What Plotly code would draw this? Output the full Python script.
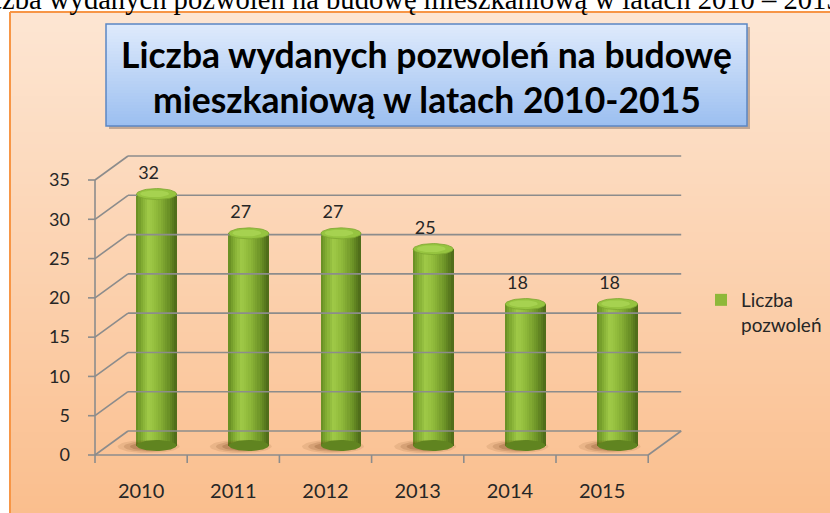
import math
import plotly.graph_objects as go

# ---------------- data ----------------
years = ["2010", "2011", "2012", "2013", "2014", "2015"]
values = [32, 27, 27, 25, 18, 18]
y_ticks = [0, 5, 10, 15, 20, 25, 30, 35]
series_name = "Liczba pozwoleń"
chart_title = ["Liczba wydanych pozwoleń na budowę", "mieszkaniową w latach 2010-2015"]
doc_caption = "Liczba wydanych pozwoleń na budowę mieszkaniową w latach 2010 – 2015"

# ---------------- geometry (pixels -> axis units) ----------------
W, H = 830, 513
PX_X = 92.2          # px per category
PX_Y = 7.857         # px per unit value
X_FRONT_PX = 95      # px of x = -0.5
Y_ZERO_PX = 455      # px of y = 0
PL, PR, PT, PB = 88, 683, 150, 463   # plot area in px

x_range = [-0.5 - (X_FRONT_PX - PL) / PX_X, -0.5 + (PR - X_FRONT_PX) / PX_X]
y_range = [-(PB - Y_ZERO_PX) / PX_Y, (Y_ZERO_PX - PT) / PX_Y]

DX = 33 / PX_X       # full depth of the 3D box
DY = 24 / PX_Y
DXC = 15.5 / PX_X    # bar centre depth offset
DYC = 9.5 / PX_Y
RX = 20 / PX_X       # cylinder radius
RY = 5.5 / PX_Y
N_STRIP = 18
SW = 2 * RX / N_STRIP


def fx(px):
    return (px - PL) / (PR - PL)


def fy(py):
    return (PB - py) / (PB - PT)


def ellipse(cx, cy, rx, ry, n=48):
    xs, ys = [], []
    for k in range(n + 1):
        a = 2 * math.pi * k / n
        xs.append(cx + rx * math.cos(a))
        ys.append(cy + ry * math.sin(a))
    return xs, ys


def lerp_color(t, stops):
    for (t0, c0), (t1, c1) in zip(stops, stops[1:]):
        if t0 <= t <= t1:
            f = (t - t0) / (t1 - t0) if t1 > t0 else 0
            c = [round(a + (b - a) * f) for a, b in zip(c0, c1)]
            return "rgb(%d,%d,%d)" % tuple(c)
    return "rgb(%d,%d,%d)" % stops[-1][1]


cyl_stops = [(0.0, (100, 138, 34)), (0.12, (126, 168, 48)), (0.32, (160, 202, 72)),
             (0.55, (140, 182, 56)), (0.8, (108, 146, 38)), (1.0, (76, 104, 24))]

fig = go.Figure()

# ---------------- walls / gridlines / ticks ----------------
gx, gy = [], []
n_cat = len(years)
left, right = -0.5, n_cat - 0.5
for t in y_ticks:
    gx += [left + DX, right + DX, None]
    gy += [t + DY, t + DY, None]
    gx += [left, left + DX, None]
    gy += [t, t + DY, None]
    # y tick
    gx += [left - 7 / PX_X, left, None]
    gy += [t, t, None]
# floor front, floor right, front vertical axis
gx += [left, right, None, right, right + DX, None, left, left, None]
gy += [0, 0, None, 0, DY, None, 0, y_ticks[-1], None]
# x ticks at category boundaries
for b in range(n_cat + 1):
    gx += [left + b, left + b, None]
    gy += [0, -8 / PX_Y, None]
fig.add_trace(go.Scatter(x=gx, y=gy, mode="lines", line=dict(color="#8c8c8c", width=1.6),
                         hoverinfo="skip", showlegend=False))

# ---------------- floor shadows ----------------
for scale, alpha in [(1.0, 0.10), (0.8, 0.15), (0.6, 0.2)]:
    sx, sy = [], []
    for i, v in enumerate(values):
        ex, ey = ellipse(i + DXC - 8 / PX_X, DYC - 1.0 / PX_Y, RX * 1.55 * scale, RY * 1.2 * scale)
        sx += ex + [None]
        sy += ey + [None]
    fig.add_trace(go.Scatter(x=sx, y=sy, mode="lines", fill="toself", line=dict(width=0),
                             fillcolor="rgba(100,50,12,%.2f)" % alpha, hoverinfo="skip", showlegend=False))

# ---------------- cylinder bottoms ----------------
bx, by = [], []
for i, v in enumerate(values):
    ex, ey = ellipse(i + DXC, DYC, RX, RY)
    bx += ex + [None]
    by += ey + [None]
fig.add_trace(go.Scatter(x=bx, y=by, mode="lines", fill="toself", line=dict(width=0),
                         fillcolor="rgb(96,132,32)", hoverinfo="skip", showlegend=False))

# ---------------- cylinder bodies (vertical strips) ----------------
legend_strip = int(N_STRIP * 0.5)
for k in range(N_STRIP):
    t = (k + 0.5) / N_STRIP
    xs = [i + DXC - RX + (k + 0.5) * SW for i in range(n_cat)]
    fig.add_trace(go.Bar(
        x=xs, y=values, base=[DYC] * n_cat, width=SW * 1.35,
        marker=dict(color=lerp_color(t, cyl_stops), line=dict(width=0)),
        name="Liczba<br>pozwoleń", showlegend=(k == legend_strip),
        hoverinfo="skip"))

# ---------------- cylinder tops ----------------
tx, ty = [], []
hx, hy = [], []
for i, v in enumerate(values):
    ex, ey = ellipse(i + DXC, v + DYC, RX, RY)
    tx += ex + [None]
    ty += ey + [None]
    ex, ey = ellipse(i + DXC - 2 / PX_X, v + DYC + 0.3 / PX_Y, RX * 0.72, RY * 0.62)
    hx += ex + [None]
    hy += ey + [None]
fig.add_trace(go.Scatter(x=tx, y=ty, mode="lines", fill="toself",
                         line=dict(width=0.8, color="rgb(124,166,48)"),
                         fillcolor="rgb(150,196,64)", hoverinfo="skip", showlegend=False))
fig.add_trace(go.Scatter(x=hx, y=hy, mode="lines", fill="toself", line=dict(width=0),
                         fillcolor="rgb(166,210,80)", hoverinfo="skip", showlegend=False))

# ---------------- data labels ----------------
fig.add_trace(go.Scatter(
    x=[i + DXC - 8 / PX_X for i in range(n_cat)],
    y=[v + DYC + 19.5 / PX_Y for v in values],
    mode="text", text=[str(v) for v in values],
    textfont=dict(family="Lato", size=18, color="#262626"),
    cliponaxis=False, hoverinfo="skip", showlegend=False))

# ---------------- background shapes ----------------
shapes = []
top_c, bot_c = (253, 230, 211), (250, 190, 141)
y_start, y_end, step = 12, 513, 4
py = y_start
while py < y_end:
    f = (py - y_start) / (y_end - y_start)
    c = tuple(round(a + (b - a) * f) for a, b in zip(top_c, bot_c))
    shapes.append(dict(type="rect", xref="paper", yref="paper", layer="below",
                       x0=fx(10), x1=fx(W), y0=fy(py), y1=fy(min(py + step + 0.5, y_end)),
                       line=dict(width=0), fillcolor="rgb(%d,%d,%d)" % c))
    py += step
# chart area border (only top and left edges are inside the page)
shapes.append(dict(type="line", xref="paper", yref="paper", layer="below",
                   x0=fx(10), x1=fx(W), y0=fy(12), y1=fy(12),
                   line=dict(width=2, color="#f79646")))
shapes.append(dict(type="line", xref="paper", yref="paper", layer="below",
                   x0=fx(10), x1=fx(10), y0=fy(12), y1=fy(H),
                   line=dict(width=2, color="#f79646")))

# title box: shadow, gradient, border
bx0, bx1, by0, by1 = 106, 747, 24, 126
shapes.append(dict(type="rect", xref="paper", yref="paper", layer="below",
                   x0=fx(bx0 + 3), x1=fx(bx1 + 3), y0=fy(by0 + 3), y1=fy(by1 + 3),
                   line=dict(width=0), fillcolor="rgba(90,70,60,0.35)"))
t_top, t_bot = (222, 234, 252), (154, 190, 240)
py = by0
while py < by1:
    f = (py - by0) / (by1 - by0)
    c = tuple(round(a + (b - a) * f) for a, b in zip(t_top, t_bot))
    shapes.append(dict(type="rect", xref="paper", yref="paper", layer="below",
                       x0=fx(bx0), x1=fx(bx1), y0=fy(py), y1=fy(min(py + 3.5, by1)),
                       line=dict(width=0), fillcolor="rgb(%d,%d,%d)" % c))
    py += 3
shapes.append(dict(type="rect", xref="paper", yref="paper", layer="below",
                   x0=fx(bx0), x1=fx(bx1), y0=fy(by0), y1=fy(by1),
                   line=dict(width=1.5, color="#5b87c4"), fillcolor="rgba(0,0,0,0)"))

annotations = [
    dict(xref="paper", yref="paper", x=fx((bx0 + bx1) / 2), y=fy(54), xanchor="center", yanchor="middle",
         text="<b>%s</b>" % chart_title[0], showarrow=False,
         font=dict(family="Lato", size=35.5, color="#000000")),
    dict(xref="paper", yref="paper", x=fx((bx0 + bx1) / 2), y=fy(99), xanchor="center", yanchor="middle",
         text="<b>%s</b>" % chart_title[1], showarrow=False,
         font=dict(family="Lato", size=35.5, color="#000000")),
    dict(xref="paper", yref="paper", x=fx(-38), y=fy(-1), xanchor="left", yanchor="middle",
         text=doc_caption, showarrow=False,
         font=dict(family="Liberation Serif", size=28.6, color="#000000")),
]

fig.update_layout(
    width=W, height=H, autosize=False,
    margin=dict(l=PL, r=W - PR, t=PT, b=H - PB, pad=0, autoexpand=False),
    paper_bgcolor="#ffffff", plot_bgcolor="rgba(0,0,0,0)",
    barmode="overlay", bargap=0,
    shapes=shapes, annotations=annotations,
    showlegend=True,
    legend=dict(x=fx(701), y=fy(281), xanchor="left", yanchor="top",
                bgcolor="rgba(0,0,0,0)", valign="top",
                font=dict(family="Lato", size=19, color="#262626")),
    xaxis=dict(range=x_range, tickmode="array", tickvals=list(range(n_cat)), ticktext=years,
               ticks="", showgrid=False, zeroline=False, showline=False,
               ticklabelstandoff=14, automargin=False,
               tickfont=dict(family="Lato", size=20, color="#262626"), fixedrange=True),
    yaxis=dict(range=y_range, tickmode="array", tickvals=y_ticks, ticktext=[str(t) for t in y_ticks],
               ticks="", showgrid=False, zeroline=False, showline=False,
               ticklabelstandoff=17, automargin=False,
               tickfont=dict(family="Lato", size=18, color="#262626"), fixedrange=True),
)

fig.write_html(
    "out.html", config={"displayModeBar": False},
    post_script=("document.documentElement.style.margin='0';"
                 "document.documentElement.style.overflow='hidden';"
                 "document.body.style.margin='0';"
                 "document.body.style.overflow='hidden';"))
